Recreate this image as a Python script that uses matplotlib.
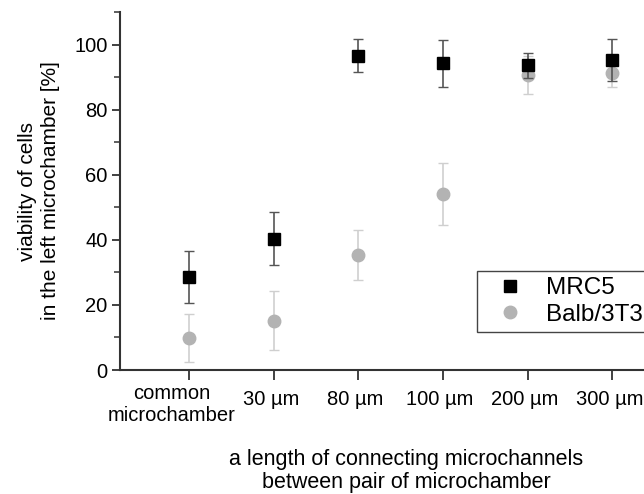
import matplotlib
matplotlib.use("Agg")
import matplotlib.pyplot as plt
import matplotlib.transforms as mtransforms
from matplotlib.ticker import MultipleLocator

plt.rcParams['font.family'] = ['Liberation Sans', 'DejaVu Sans']

# categories on the x axis
categories = ['common\nmicrochamber', '30 µm', '80 µm', '100 µm', '200 µm', '300 µm']

# viability [%] and error (SD)
mrc5 = [28.6, 40.4, 96.6, 94.2, 93.6, 95.3]
mrc5_err = [7.9, 8.1, 5.0, 7.2, 3.8, 6.5]
balb = [9.8, 15.2, 35.3, 54.2, 90.7, 91.3]
balb_err = [7.3, 9.0, 7.6, 9.5, 5.8, 4.4]

x = list(range(len(categories)))

fig = plt.figure(figsize=(6.44, 4.94), dpi=100)
# the original image is cropped on the right, so the axes run past the figure edge
ax = fig.add_axes([120 / 644, 124 / 494, 572 / 644, 358 / 494])

c1 = ax.errorbar(x, mrc5, yerr=mrc5_err, fmt='s', color='black', markersize=8,
                 ecolor='#555555', elinewidth=1.2, capsize=3.5, capthick=1.0,
                 zorder=3)
c2 = ax.errorbar(x, balb, yerr=balb_err, fmt='o', color='#b3b3b3', markersize=9,
                 ecolor='#cfcfcf', elinewidth=1.2, capsize=3.5, capthick=1.0,
                 zorder=2)

ax.set_xlim(-0.815, 5.94)
ax.set_ylim(0, 110)
ax.set_xticks(x)
ax.set_xticklabels(categories, fontsize=14.5)
ax.yaxis.set_major_locator(MultipleLocator(20))
ax.yaxis.set_minor_locator(MultipleLocator(10))
ax.tick_params(axis='y', labelsize=14.5, length=6, width=1.3, color='#333333', direction='out', pad=3)
ax.tick_params(axis='y', which='minor', length=4, width=1.1, color='#333333')
ax.tick_params(axis='x', length=7, width=1.3, color='#333333', direction='out', pad=3)

# shift tick labels a little like in the original figure
for i, lab in enumerate(ax.get_xticklabels()):
    if i == 0:
        dx, dy = -17, 0
    else:
        dx, dy = -3, -6
    lab.set_transform(lab.get_transform() +
                      mtransforms.ScaledTranslation(dx / 100, dy / 100, fig.dpi_scale_trans))

for side in ['top', 'right']:
    ax.spines[side].set_visible(False)
for side in ['left', 'bottom']:
    ax.spines[side].set_linewidth(1.5)
    ax.spines[side].set_color('#333333')

ax.set_ylabel('viability of cells\nin the left microchamber [%]', fontsize=15, labelpad=10,
              linespacing=1.25)
ax.set_xlabel('a length of connecting microchannels\nbetween pair of microchamber',
              fontsize=15.5, labelpad=17, linespacing=1.15)

leg = fig.legend([c1[0], c2[0]], ['MRC5', 'Balb/3T3'], loc='upper left',
                 bbox_to_anchor=(477 / 644, 1 - 271 / 494),
                 bbox_transform=fig.transFigure, borderaxespad=0, fontsize=17.5,
                 frameon=True, fancybox=False, framealpha=1, edgecolor='#444444',
                 handlelength=2.2, handletextpad=0.4, labelspacing=0.2, borderpad=0.25)
leg.get_frame().set_linewidth(1.0)

fig.savefig('out.png', dpi=100)
